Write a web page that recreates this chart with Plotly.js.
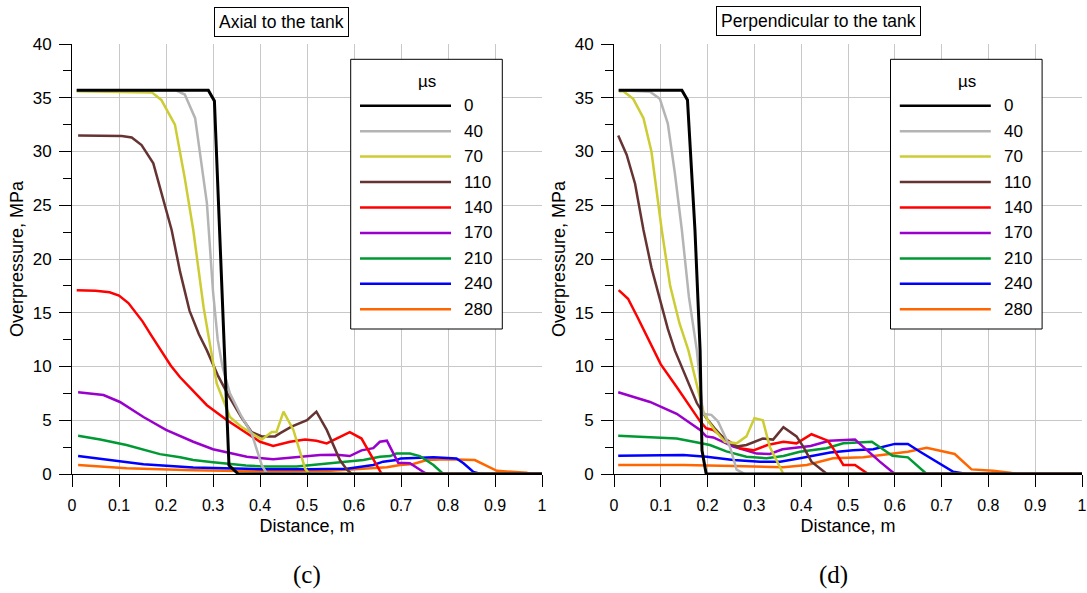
<!DOCTYPE html>
<html>
<head>
<meta charset="utf-8">
<script src="https://cdn.plot.ly/plotly-3.0.1.min.js"></script>
<style>html,body{margin:0;padding:0;background:#fff;}#chart{width:1087px;height:593px;}</style>
</head>
<body>
<div id="chart"></div>
<script>
// ---- series labels (µs) and colours ----
const timeLabels = ["0", "40", "70", "110", "140", "170", "210", "240", "280"];
const seriesColors = ["#000000", "#b4b4b4", "#cccc33", "#663333", "#ff0000", "#9900cc", "#009933", "#0000ff", "#ff6600"];
const xTickVals = [0, 0.1, 0.2, 0.3, 0.4, 0.5, 0.6, 0.7, 0.8, 0.9, 1];
const xTickText = ["0", "0.1", "0.2", "0.3", "0.4", "0.5", "0.6", "0.7", "0.8", "0.9", "1"];
const panelTitles = ["Axial to the tank", "Perpendicular to the tank"];
const panelCaptions = ["(c)", "(d)"];

// ---- (c) Axial to the tank ----
const axial0x = [0.01, 0.29, 0.303, 0.318, 0.334, 0.354, 1.0];
const axial0y = [35.7, 35.7, 34.7, 18, 0.8, 0, 0];
const axial40x = [0.01, 0.22, 0.24, 0.262, 0.287, 0.30, 0.31, 0.32, 0.336, 0.36, 0.382, 0.404, 0.415, 1.0];
const axial40y = [35.7, 35.7, 35.3, 33.1, 25.2, 17, 12.5, 10, 7.5, 5.4, 3.8, 0.8, 0, 0];
const axial70x = [0.01, 0.17, 0.19, 0.219, 0.24, 0.258, 0.28, 0.308, 0.336, 0.36, 0.382, 0.404, 0.425, 0.435, 0.45, 0.471, 0.496, 0.505, 1.0];
const axial70y = [35.6, 35.5, 34.8, 32.5, 27.5, 22.7, 15.5, 8.4, 5.3, 4.4, 3.8, 3.2, 3.9, 3.9, 5.8, 4.1, 0.5, 0, 0];
const axial110x = [0.013, 0.106, 0.127, 0.148, 0.173, 0.19, 0.212, 0.23, 0.25, 0.27, 0.287, 0.31, 0.333, 0.36, 0.382, 0.404, 0.432, 0.443, 0.467, 0.50, 0.52, 0.542, 0.57, 0.585, 0.595, 1.0];
const axial110y = [31.5, 31.45, 31.3, 30.6, 28.9, 26.1, 22.7, 18.8, 15.2, 13, 11.5, 9.2, 7.3, 5.3, 3.9, 3.5, 3.5, 3.8, 4.4, 5.0, 5.8, 4.1, 1.3, 0.4, 0, 0];
const axial140x = [0.01, 0.05, 0.08, 0.10, 0.12, 0.15, 0.17, 0.19, 0.21, 0.23, 0.258, 0.287, 0.33, 0.372, 0.40, 0.428, 0.464, 0.496, 0.52, 0.542, 0.591, 0.616, 0.638, 0.659, 1.0];
const axial140y = [17.1, 17.05, 16.9, 16.6, 15.9, 14.2, 12.8, 11.4, 10.1, 9.0, 7.7, 6.4, 5.0, 3.8, 3.0, 2.6, 3.0, 3.2, 3.1, 2.85, 3.9, 3.3, 1.6, 0, 0];
const axial170x = [0.013, 0.067, 0.102, 0.152, 0.20, 0.23, 0.258, 0.30, 0.372, 0.428, 0.478, 0.528, 0.563, 0.591, 0.616, 0.641, 0.655, 0.67, 0.677, 0.694, 0.719, 0.751, 0.76, 1.0];
const axial170y = [7.6, 7.35, 6.7, 5.3, 4.1, 3.5, 3.0, 2.3, 1.6, 1.37, 1.55, 1.77, 1.8, 1.67, 2.2, 2.4, 3.0, 3.1, 2.5, 1.05, 1.0, 0.1, 0, 0];
const axial210x = [0.013, 0.06, 0.116, 0.187, 0.23, 0.258, 0.30, 0.33, 0.37, 0.407, 0.45, 0.478, 0.549, 0.62, 0.655, 0.677, 0.69, 0.719, 0.74, 0.769, 0.79, 1.0];
const axial210y = [3.55, 3.2, 2.7, 1.85, 1.55, 1.3, 1.1, 0.95, 0.8, 0.7, 0.68, 0.7, 1.0, 1.3, 1.6, 1.67, 1.9, 1.9, 1.67, 0.84, 0, 0];
const axial240x = [0.013, 0.081, 0.152, 0.258, 0.40, 0.50, 0.585, 0.641, 0.662, 0.69, 0.70, 0.769, 0.818, 0.833, 0.854, 0.87, 1.0];
const axial240y = [1.67, 1.3, 0.9, 0.6, 0.45, 0.45, 0.5, 0.84, 1.15, 1.3, 1.45, 1.55, 1.45, 1.0, 0.2, 0, 0];
const axial280x = [0.013, 0.116, 0.258, 0.40, 0.55, 0.627, 0.67, 0.698, 0.726, 0.755, 0.797, 0.857, 0.904, 0.967, 0.975, 1.0];
const axial280y = [0.84, 0.53, 0.35, 0.25, 0.3, 0.53, 0.62, 0.84, 0.93, 1.3, 1.37, 1.3, 0.3, 0.12, 0, 0];

// ---- (d) Perpendicular to the tank ----
const perp0x = [0.01, 0.145, 0.157, 0.173, 0.184, 0.188, 0.197, 1.0];
const perp0y = [35.7, 35.7, 34.8, 22.7, 11.5, 2.2, 0, 0];
const perp40x = [0.01, 0.077, 0.098, 0.115, 0.13, 0.145, 0.16, 0.177, 0.19, 0.208, 0.222, 0.248, 0.262, 0.28, 1.0];
const perp40y = [35.7, 35.56, 34.9, 32.6, 28, 22.7, 16.5, 11.5, 5.6, 5.5, 4.9, 2.5, 0.4, 0, 0];
const perp70x = [0.01, 0.02, 0.041, 0.063, 0.08, 0.102, 0.12, 0.14, 0.159, 0.175, 0.191, 0.20, 0.215, 0.237, 0.262, 0.283, 0.30, 0.318, 0.333, 0.362, 1.0];
const perp70y = [35.6, 35.6, 34.9, 33.1, 30, 22.7, 17.5, 14, 11.5, 8.5, 5.8, 5.0, 4.1, 3.0, 2.85, 3.5, 5.2, 5.0, 2.5, 0, 0];
const perp110x = [0.009, 0.027, 0.045, 0.063, 0.08, 0.10, 0.115, 0.13, 0.155, 0.177, 0.197, 0.215, 0.237, 0.262, 0.283, 0.318, 0.34, 0.362, 0.39, 0.405, 0.422, 0.455, 1.0];
const perp110y = [31.5, 29.7, 27, 22.7, 19.2, 16, 13.5, 11.5, 8.8, 6.6, 5.2, 4.25, 3.2, 2.55, 2.7, 3.3, 3.2, 4.35, 3.5, 2.5, 1.15, 0, 0];
const perp140x = [0.01, 0.03, 0.05, 0.07, 0.084, 0.10, 0.134, 0.16, 0.184, 0.197, 0.212, 0.24, 0.269, 0.298, 0.328, 0.362, 0.39, 0.422, 0.457, 0.468, 0.49, 0.515, 0.543, 1.0];
const perp140y = [17.1, 16.3, 14.6, 12.8, 11.5, 10.2, 8.1, 6.4, 4.9, 4.25, 4.1, 3.2, 2.4, 2.2, 2.7, 3.0, 2.85, 3.7, 3.1, 2.4, 0.84, 0.84, 0, 0];
const perp170x = [0.009, 0.077, 0.134, 0.184, 0.197, 0.212, 0.255, 0.305, 0.333, 0.36, 0.42, 0.46, 0.515, 0.54, 0.568, 0.60, 1.0];
const perp170y = [7.6, 6.7, 5.6, 4.1, 3.5, 3.4, 2.55, 1.9, 1.86, 2.3, 2.6, 3.1, 3.2, 2.2, 1.15, 0, 0];
const perp210x = [0.009, 0.077, 0.134, 0.17, 0.205, 0.24, 0.283, 0.326, 0.362, 0.397, 0.454, 0.49, 0.551, 0.595, 0.628, 0.668, 1.0];
const perp210y = [3.55, 3.4, 3.3, 3.0, 2.7, 2.1, 1.6, 1.46, 1.67, 2.07, 2.4, 2.85, 3.0, 1.7, 1.55, 0, 0];
const perp240x = [0.009, 0.077, 0.148, 0.198, 0.255, 0.312, 0.355, 0.397, 0.462, 0.511, 0.554, 0.60, 0.628, 0.654, 0.725, 0.754, 1.0];
const perp240y = [1.7, 1.74, 1.77, 1.6, 1.3, 1.15, 1.15, 1.46, 2.0, 2.2, 2.3, 2.8, 2.8, 2.07, 0.2, 0, 0];
const perp280x = [0.009, 0.148, 0.255, 0.362, 0.412, 0.468, 0.533, 0.575, 0.628, 0.668, 0.728, 0.764, 0.81, 0.846, 0.86, 1.0];
const perp280y = [0.84, 0.84, 0.74, 0.62, 0.84, 1.46, 1.55, 1.77, 2.07, 2.45, 1.86, 0.43, 0.3, 0.12, 0, 0];

const panels = [
  {xs: [axial0x, axial40x, axial70x, axial110x, axial140x, axial170x, axial210x, axial240x, axial280x],
   ys: [axial0y, axial40y, axial70y, axial110y, axial140y, axial170y, axial210y, axial240y, axial280y]},
  {xs: [perp0x, perp40x, perp70x, perp110x, perp140x, perp170x, perp210x, perp240x, perp280x],
   ys: [perp0y, perp40y, perp70y, perp110y, perp140y, perp170y, perp210y, perp240y, perp280y]}
];

// ---- geometry helpers (pixel -> paper) ----
const ML = 72, MR = 5, MT = 44, MB = 119;
const PW = 1087 - ML - MR, PH = 593 - MT - MB;
const px = v => (v - ML) / PW;
const py = v => (593 - MB - v) / PH;

const FONT = "Liberation Sans, Arial, sans-serif";
const traces = [];
panels.forEach((p, k) => {
  for (let i = timeLabels.length - 1; i >= 0; i--) {
    traces.push({
      x: p.xs[i], y: p.ys[i],
      xaxis: k === 0 ? "x" : "x2", yaxis: k === 0 ? "y" : "y2",
      mode: "lines", name: timeLabels[i] + " µs", showlegend: false,
      line: {color: seriesColors[i], width: i === 0 ? 3 : 2.5},
      hoverinfo: "x+y+name"
    });
  }
});

function xAxis(domain, anchor) {
  return {
    domain: domain, anchor: anchor, range: [0, 1], autorange: false,
    tickmode: "array", tickvals: xTickVals, ticktext: xTickText,
    ticks: "outside", ticklen: 12, tickwidth: 1, tickcolor: "#000",
    showline: true, linecolor: "#000", linewidth: 1,
    showgrid: true, gridcolor: "#c8c8c8", gridwidth: 1, zeroline: false,
    tickfont: {family: FONT, size: 16, color: "#000"},
    ticklabelstandoff: 5,
    title: {text: "Distance, m", font: {family: FONT, size: 18, color: "#000"}, standoff: 6},
    automargin: false
  };
}
function yAxis(anchor) {
  return {
    domain: [0, 1], anchor: anchor, range: [0, 40], autorange: false,
    tick0: 0, dtick: 5, ticks: "outside", ticklen: 12, tickwidth: 1, tickcolor: "#000",
    minor: {dtick: 2.5, ticks: "outside", ticklen: 8, tickcolor: "#000", showgrid: false},
    showline: true, linecolor: "#000", linewidth: 1,
    showgrid: true, gridcolor: "#c8c8c8", gridwidth: 1, zeroline: false,
    tickfont: {family: FONT, size: 17, color: "#000"},
    ticklabelstandoff: 4,
    title: {text: "Overpressure, MPa", font: {family: FONT, size: 18, color: "#000"}, standoff: 4},
    automargin: false
  };
}

const shapes = [], annotations = [];
const legendOffsets = [0, 539.8];
const titleCenters = [[281, 22], [818, 21]];
const captionCenters = [307, 833];
legendOffsets.forEach((dx, k) => {
  shapes.push({type: "rect", xref: "paper", yref: "paper",
    x0: px(350.7 + dx), x1: px(502.3 + dx), y0: py(59.3), y1: py(329),
    line: {color: "#000", width: 1}, fillcolor: "#fff", layer: "above"});
  annotations.push({xref: "paper", yref: "paper", x: px(426.7 + dx), y: py(81.7),
    xanchor: "center", yanchor: "middle", showarrow: false, text: "µs",
    font: {family: FONT, size: 17, color: "#000"}});
  timeLabels.forEach((lab, i) => {
    const yy = 105.7 + i * 25.45;
    shapes.push({type: "line", xref: "paper", yref: "paper",
      x0: px(360 + dx), x1: px(451 + dx), y0: py(yy), y1: py(yy),
      line: {color: seriesColors[i], width: 2.5}, layer: "above"});
    annotations.push({xref: "paper", yref: "paper", x: px(461.7 + dx), y: py(yy),
      xanchor: "left", yanchor: "middle", showarrow: false, text: lab,
      font: {family: FONT, size: 17, color: "#000"}});
  });
  annotations.push({xref: "paper", yref: "paper", x: px(titleCenters[k][0]), y: py(titleCenters[k][1]),
    xanchor: "center", yanchor: "middle", showarrow: false, text: panelTitles[k],
    bordercolor: "#000", borderwidth: 1, borderpad: 4, bgcolor: "#fff",
    font: {family: FONT, size: 17.5, color: "#000"}});
  annotations.push({xref: "paper", yref: "paper", x: px(captionCenters[k]), y: py(575),
    xanchor: "center", yanchor: "middle", showarrow: false, text: panelCaptions[k],
    font: {family: "Liberation Serif, Times New Roman, serif", size: 25, color: "#000"}});
});

const layout = {
  width: 1087, height: 593,
  margin: {l: ML, r: MR, t: MT, b: MB, pad: 0},
  paper_bgcolor: "#fff", plot_bgcolor: "#fff",
  showlegend: false,
  xaxis: xAxis([0, 470 / PW], "y"),
  yaxis: yAxis("x"),
  xaxis2: xAxis([(614 - ML) / PW, 1], "y2"),
  yaxis2: yAxis("x2"),
  shapes: shapes,
  annotations: annotations,
  font: {family: FONT, color: "#000"}
};

Plotly.newPlot("chart", traces, layout, {displayModeBar: false, responsive: false});
</script>
</body>
</html>
